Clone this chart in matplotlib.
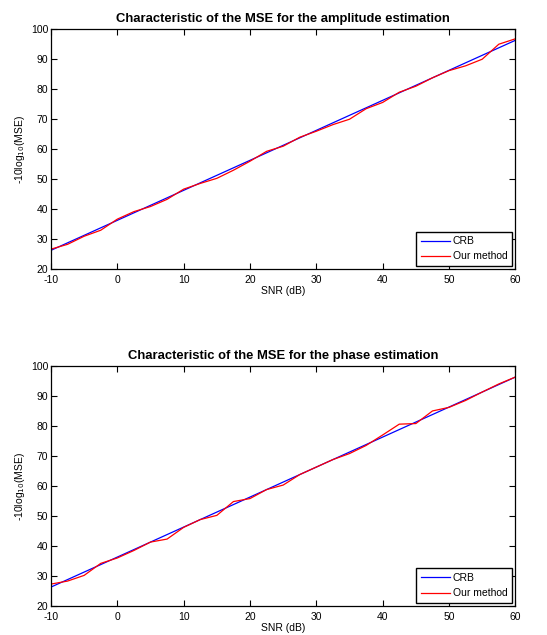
import matplotlib.pyplot as plt
import numpy as np

plt.rcParams['font.family'] = ['Liberation Sans', 'DejaVu Sans']
plt.rcParams['axes.unicode_minus'] = False

# SNR en dB, pas de 2.5
snr = np.arange(-10, 60.1, 2.5)

crb = [26.3, 28.8, 31.3, 33.8, 36.3, 38.8, 41.3, 43.8, 46.3, 48.8,
       51.3, 53.8, 56.3, 58.8, 61.3, 63.8, 66.3, 68.8, 71.3, 73.8,
       76.3, 78.8, 81.3, 83.8, 86.3, 88.8, 91.3, 93.8, 96.3]

# amplitude
amp_ours = [26.7, 28.3, 31.0, 33.0, 36.7, 39.2, 40.9, 43.3, 46.7, 48.6,
            50.3, 53.0, 56.0, 59.3, 61.0, 64.0, 66.0, 68.2, 70.0, 73.5,
            75.6, 79.0, 81.0, 83.8, 86.2, 87.8, 90.0, 95.0, 96.8]

# phase
phase_ours = [27.3, 28.3, 30.2, 34.2, 36.0, 38.5, 41.3, 42.3, 46.2, 48.8,
              50.2, 54.8, 55.8, 58.8, 60.3, 63.8, 66.3, 68.8, 70.8, 73.5,
              77.0, 80.6, 80.8, 85.0, 86.2, 88.5, 91.3, 94.0, 96.3]

titles = ["Characteristic of the MSE for the amplitude estimation",
          "Characteristic of the MSE for the phase estimation"]

fig = plt.figure(figsize=(5.47, 6.35), dpi=100)
ax1 = fig.add_axes([0.0932, 0.576, 0.849, 0.378])
ax2 = fig.add_axes([0.0932, 0.0457, 0.849, 0.378])

for ax, ours, titulo in zip([ax1, ax2], [amp_ours, phase_ours], titles):
    ax.plot(snr, crb, color='blue', lw=0.9, label='CRB')
    ax.plot(snr, ours, color='red', lw=0.9, label='Our method')
    ax.set_xlim(-10, 60)
    ax.set_ylim(20, 100)
    ax.set_xticks(range(-10, 61, 10))
    ax.set_yticks(range(20, 101, 10))
    ax.tick_params(direction='in', length=4, width=0.8, labelsize=7.5,
                   top=True, right=True)
    ax.tick_params(axis='x', pad=4)
    ax.tick_params(axis='y', pad=2)
    for s in ax.spines.values():
        s.set_linewidth(0.9)
    ax.set_title(titulo, fontsize=9.4, fontweight='bold', pad=5)
    ax.set_xlabel("SNR (dB)", fontsize=7.5, labelpad=1)
    ax.set_ylabel("-10log$_{10}$(MSE)", fontsize=7.5, labelpad=3)
    leg = ax.legend(loc='lower right', fontsize=7.5, fancybox=False,
                    framealpha=1, edgecolor='black', borderpad=0.45,
                    handlelength=2.8, handletextpad=0.3, labelspacing=0.5,
                    borderaxespad=0.3)
    leg.get_frame().set_linewidth(1.0)

fig.savefig("out.png", dpi=100)
